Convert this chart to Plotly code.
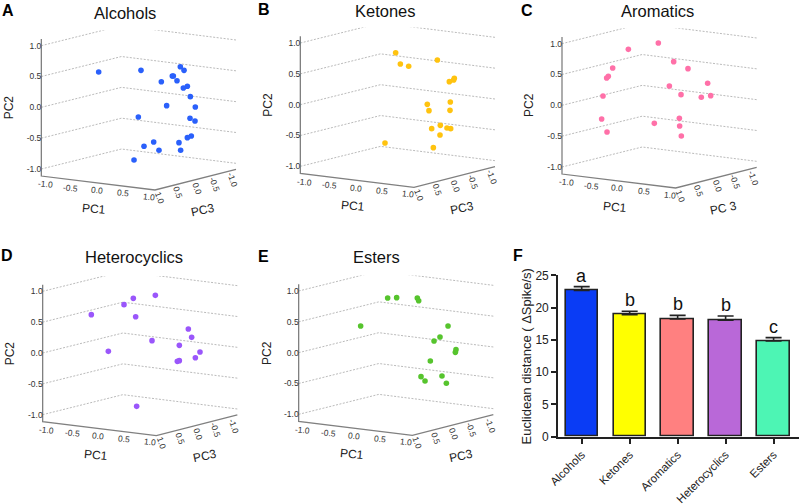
import plotly.graph_objects as go

W, H = 800, 504
FONT = "Liberation Sans, Arial, sans-serif"

# --- PCA panels: values are the projected position (horizontal, PC2-scale vertical)
alcohols_u = [0.93,1.616,1.946,2.254,2.314,2.124,2.141,2.2,2.303,2.368,2.416,2.032,2.497,1.573,2.411,2.492,2.432,2.368,2.232,1.822,1.665,1.908,2.259,1.503]
alcohols_v = [0.573,0.6,0.416,0.659,0.6,0.508,0.508,0.432,0.314,0.341,0.173,0.027,0.005,-0.157,-0.178,-0.222,-0.465,-0.492,-0.573,-0.562,-0.632,-0.697,-0.697,-0.854]
ketones_u = [1.546,1.622,1.757,2.222,2.497,2.486,2.416,2.059,2.086,2.432,2.427,2.27,2.13,2.378,2.438,2.265,2.157,1.373]
ketones_v = [0.843,0.659,0.622,0.724,0.427,0.4,0.373,0.005,-0.097,0.043,-0.092,-0.335,-0.389,-0.378,-0.389,-0.492,-0.697,-0.622]
aromatics_u = [1.076,1.562,1.811,2.043,0.822,0.751,0.724,0.665,1.741,1.93,2.362,2.259,2.411,0.643,0.73,1.497,1.903,1.908,1.935]
aromatics_v = [0.908,1.011,0.708,0.595,0.605,0.47,0.443,0.151,0.314,0.173,0.357,0.13,0.157,-0.222,-0.432,-0.292,-0.211,-0.335,-0.497]
hetero_u = [1.827,1.47,1.319,0.789,1.508,2.362,2.416,1.773,2.216,1.065,2.551,2.476,2.216,2.184,1.524]
hetero_v = [0.935,0.886,0.784,0.622,0.589,0.389,0.254,0.2,0.124,0.027,0.016,-0.076,-0.124,-0.135,-0.865]
esters_u = [1.443,1.589,1.924,1.946,1.005,2.422,2.292,2.195,2.551,2.541,2.135,1.984,2.049,2.324,2.395]
esters_v = [0.886,0.892,0.886,0.843,0.432,0.432,0.254,0.189,0.049,0.005,-0.135,-0.389,-0.459,-0.378,-0.497]

# --- Bars
categories = ["Alcohols", "Ketones", "Aromatics", "Heterocyclics", "Esters"]
distance = [22.67, 18.9, 18.23, 18.03, 14.82]
distance_err = [0.57, 0.52, 0.57, 0.67, 0.52]
letters = ["a", "b", "b", "b", "c"]
bar_colors = ["#0a3cf5", "#ffff00", "#ff8080", "#b968d8", "#4df5b4"]

wall_ticks = [-1.0, -0.5, 0.0, 0.5, 1.0]
pc_tick_text = ["-1.0", "-0.5", "0.0", "0.5", "1.0"]

PX = 185 / 3  # pixels per PC2 unit
U_BACK, U_FRONT, U_END = 1.30, 1.843, 3.157
V_TOP, V_BOT = 1.108, -1.114
RISE, FALL = 0.324, 0.232
U_MIN, U_MAX, V_MIN, V_MAX = -0.65, 3.3, -1.75, 1.25

pc1_pos = [(0.07,-1.249),(0.48,-1.303),(0.897,-1.346),(1.324,-1.395),(1.746,-1.449)]
pc3_pos = [(3.103,-1.178),(2.805,-1.249),(2.519,-1.314),(2.222,-1.384),(1.924,-1.465)]

panels = [
    dict(name="Alcohols", letter="A", u=alcohols_u, v=alcohols_v, color="#2a60fb", ox=41.33, oy=107.33, tx=125, ty=12.5, lx=8, ly=10, pc3="PC3"),
    dict(name="Ketones", letter="B", u=ketones_u, v=ketones_v, color="#ffc30f", ox=300.33, oy=104.67, tx=385, ty=10.5, lx=264, ly=9, pc3="PC3"),
    dict(name="Aromatics", letter="C", u=aromatics_u, v=aromatics_v, color="#ff70a8", ox=562, oy=105.33, tx=657, ty=11, lx=527, ly=10, pc3="PC 3"),
    dict(name="Heterocyclics", letter="D", u=hetero_u, v=hetero_v, color="#9a56fb", ox=42.67, oy=353, tx=134, ty=257, lx=7, ly=255, pc3="PC3"),
    dict(name="Esters", letter="E", u=esters_u, v=esters_v, color="#56c42d", ox=298.67, oy=352.67, tx=376, ty=257, lx=263, ly=256, pc3="PC3"),
]

fig = go.Figure()
annotations = []
layout_axes = {}

def paper_text(text, x, y, size, color="#111", **kw):
    annotations.append(dict(text=text, x=x / W, y=1 - y / H, xref="paper", yref="paper",
                            showarrow=False, font=dict(family=FONT, size=size, color=color),
                            xanchor="center", yanchor="middle", **kw))

for i, p in enumerate(panels, start=1):
    xa, ya = f"x{i}", f"y{i}"
    left, right = p["ox"] + U_MIN * PX, p["ox"] + U_MAX * PX
    top, bottom = p["oy"] - V_MAX * PX, p["oy"] - V_MIN * PX
    layout_axes[f"xaxis{i}"] = dict(domain=[left / W, right / W], range=[U_MIN, U_MAX], visible=False,
                                    anchor=ya, fixedrange=True, automargin=False)
    layout_axes[f"yaxis{i}"] = dict(domain=[1 - bottom / H, 1 - top / H], range=[V_MIN, V_MAX],
                                    anchor="free", position=p["ox"] / W,
                                    tickmode="array", tickvals=wall_ticks, ticktext=pc_tick_text,
                                    showgrid=False, zeroline=False, showline=False, ticks="",
                                    tickfont=dict(family=FONT, size=8.5, color="#333"),
                                    fixedrange=True, automargin=False)
    gx, gy = [], []
    for k in wall_ticks:
        gx += [0, U_BACK, U_END, None]
        gy += [k, k + RISE, k + RISE - FALL, None]
    fig.add_trace(go.Scatter(x=gx, y=gy, xaxis=xa, yaxis=ya, mode="lines",
                             line=dict(color="#bbbbbb", width=1, dash="2px,1.5px"), hoverinfo="skip"))
    fig.add_trace(go.Scatter(x=[0, 0, U_FRONT, U_END], y=[V_TOP, V_BOT, -1.34, -1.005], xaxis=xa, yaxis=ya,
                             mode="lines", line=dict(color="#808080", width=1.3), hoverinfo="skip"))
    fig.add_trace(go.Scatter(x=p["u"], y=p["v"], xaxis=xa, yaxis=ya, mode="markers",
                             marker=dict(color=p["color"], size=5.6, line=dict(width=0)), name=p["name"]))

    def data_text(text, u, v, size, angle, color="#333"):
        annotations.append(dict(text=text, x=u, y=v, xref=xa, yref=ya, showarrow=False, textangle=angle,
                                font=dict(family=FONT, size=size, color=color),
                                xanchor="center", yanchor="middle"))
    for t, (u, v) in zip(pc_tick_text, pc1_pos):
        data_text(t, u, v, 8.5, 6)
    for t, (u, v) in zip(pc_tick_text, pc3_pos):
        data_text(t, u, v, 8.5, 70)
    data_text("PC1", 0.859, -1.649, 12, 5, "#222")
    data_text(p["pc3"], 2.625, -1.672, 12, -12, "#222")
    data_text("PC2", -0.524, 0.0, 12, -90, "#222")
    paper_text(p["name"], p["tx"], p["ty"], 16.5)
    paper_text(f"<b>{p['letter']}</b>", p["lx"], p["ly"], 16, "#000")

paper_text("<b>F</b>", 518, 255, 16, "#000")

# --- Bar panel
bx0, bx1 = 558, 799
by_top, by_bot = 275.3, 436.7
fig.add_trace(go.Bar(x=categories, y=distance, xaxis="x6", yaxis="y6", width=0.673,
                     marker=dict(color=bar_colors, line=dict(color="#222", width=1.6)),
                     error_y=dict(type="data", symmetric=False, array=distance_err, arrayminus=[0] * 5,
                                  color="#222", thickness=1.6, width=8)))
layout_axes["xaxis6"] = dict(domain=[bx0 / W, bx1 / W], range=[-0.494, 4.53], anchor="y6",
                             showline=True, linecolor="#222", linewidth=1.6, ticks="outside", ticklen=5,
                             tickwidth=1.5, tickcolor="#222", tickangle=-45, automargin=False,
                             tickfont=dict(family=FONT, size=11.5, color="#222"), fixedrange=True)
layout_axes["yaxis6"] = dict(domain=[1 - by_bot / H, 1 - by_top / H], range=[0, 25], anchor="x6",
                             tickmode="array", tickvals=[0, 5, 10, 15, 20, 25], showgrid=False, zeroline=False,
                             showline=True, linecolor="#222", linewidth=1.6, ticks="outside", ticklen=5,
                             tickwidth=1.5, tickcolor="#222", automargin=False,
                             tickfont=dict(family=FONT, size=12, color="#222"), fixedrange=True)
for c, v, e, t in zip(categories, distance, distance_err, letters):
    annotations.append(dict(text=t, x=c, y=v + e, xref="x6", yref="y6", yanchor="bottom", showarrow=False,
                            yshift=-1, font=dict(family=FONT, size=18, color="#111")))
paper_text("Euclidean distance ( \u0394Spike/s)", 525.5, 357, 13, "#222", textangle=-90)

fig.update_layout(width=W, height=H, margin=dict(l=0, r=0, t=0, b=0), autosize=False, showlegend=False,
                  plot_bgcolor="rgba(0,0,0,0)", paper_bgcolor="white", bargap=0, annotations=annotations,
                  **layout_axes)
fig.write_html("out.html", config=dict(displayModeBar=False),
               post_script="document.documentElement.style.overflow='hidden';document.body.style.margin='0';")
